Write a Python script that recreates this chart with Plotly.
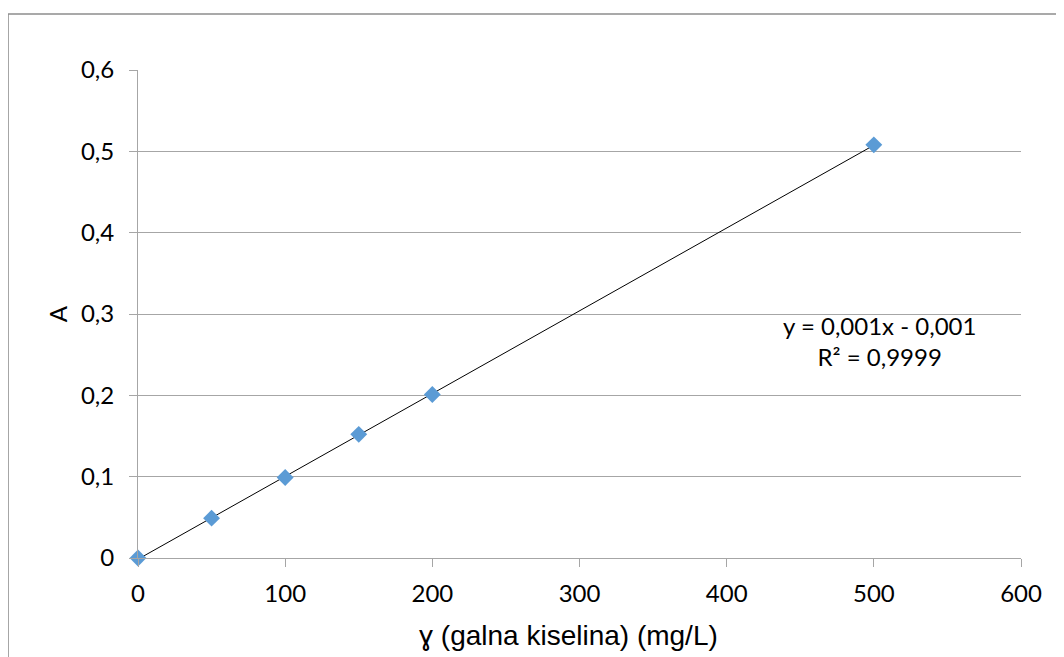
import numpy as np
import plotly.graph_objects as go

conc = [0, 50, 100, 150, 200, 500]
absorb = [0.0, 0.049, 0.099, 0.152, 0.201, 0.508]
x_ticks = [0, 100, 200, 300, 400, 500, 600]
y_ticks = [0, 0.1, 0.2, 0.3, 0.4, 0.5, 0.6]
y_tick_labels = ["0", "0,1", "0,2", "0,3", "0,4", "0,5", "0,6"]
eq_text = "y = 0,001x - 0,001<br>R² = 0,9999"
x_title = "ɣ (galna kiselina) (mg/L)"

slope, intercept = np.polyfit(conc, absorb, 1)
fit_x = [min(conc), max(conc)]
fit_y = [slope * v + intercept for v in fit_x]

fig = go.Figure()
fig.add_trace(go.Scatter(x=fit_x, y=fit_y, mode="lines",
                         line=dict(color="black", width=1), showlegend=False,
                         hoverinfo="skip", cliponaxis=False))
fig.add_trace(go.Scatter(x=conc, y=absorb, mode="markers",
                         marker=dict(symbol="diamond", size=13, color="#5b9bd5"),
                         showlegend=False, cliponaxis=False))

tick_font = dict(family="Lato, Open Sans, sans-serif", size=24, color="black")

fig.update_layout(
    width=1064, height=657,
    margin=dict(l=130, r=51, t=62, b=107),
    paper_bgcolor="white", plot_bgcolor="white",
    xaxis=dict(range=[0, 600], tickvals=x_ticks, ticktext=[str(v) for v in x_ticks],
               showgrid=False, zeroline=False, showline=True, linecolor="#a6a6a6",
               linewidth=1, ticks="outside", ticklen=8, tickcolor="#a6a6a6",
               tickfont=tick_font, ticklabelstandoff=6),
    yaxis=dict(range=[0, 0.6], tickvals=y_ticks, ticktext=y_tick_labels,
               showgrid=True, gridcolor="#a6a6a6", gridwidth=1, zeroline=False,
               showline=True, linecolor="#a6a6a6", linewidth=1,
               ticks="outside", ticklen=8, tickcolor="#a6a6a6", tickfont=tick_font,
               ticklabelstandoff=10,
               title=dict(text="A", font=tick_font, standoff=6)),
)

fig.add_annotation(x=0.487, y=-0.158, xref="paper", yref="paper", text=x_title,
                   showarrow=False, xanchor="center", yanchor="middle",
                   font=dict(family="Liberation Sans, Arial, sans-serif", size=28,
                             color="black"))

fig.add_annotation(x=0.84, y=0.445, xref="paper", yref="paper", text=eq_text,
                   showarrow=False, align="center", xanchor="center", yanchor="middle",
                   font=dict(family="Lato, Open Sans, sans-serif", size=24, color="black"))

# outer chart frame (cropped): left and top edges
fig.add_shape(type="line", xref="paper", yref="paper", x0=-0.1472, x1=-0.1472,
              y0=-0.25, y1=1.1148, line=dict(color="#8c8c8c", width=1.5))
fig.add_shape(type="line", xref="paper", yref="paper", x0=-0.1472, x1=1.1,
              y0=1.1148, y1=1.1148, line=dict(color="#8c8c8c", width=1.5))

fig.write_html("out.html")
